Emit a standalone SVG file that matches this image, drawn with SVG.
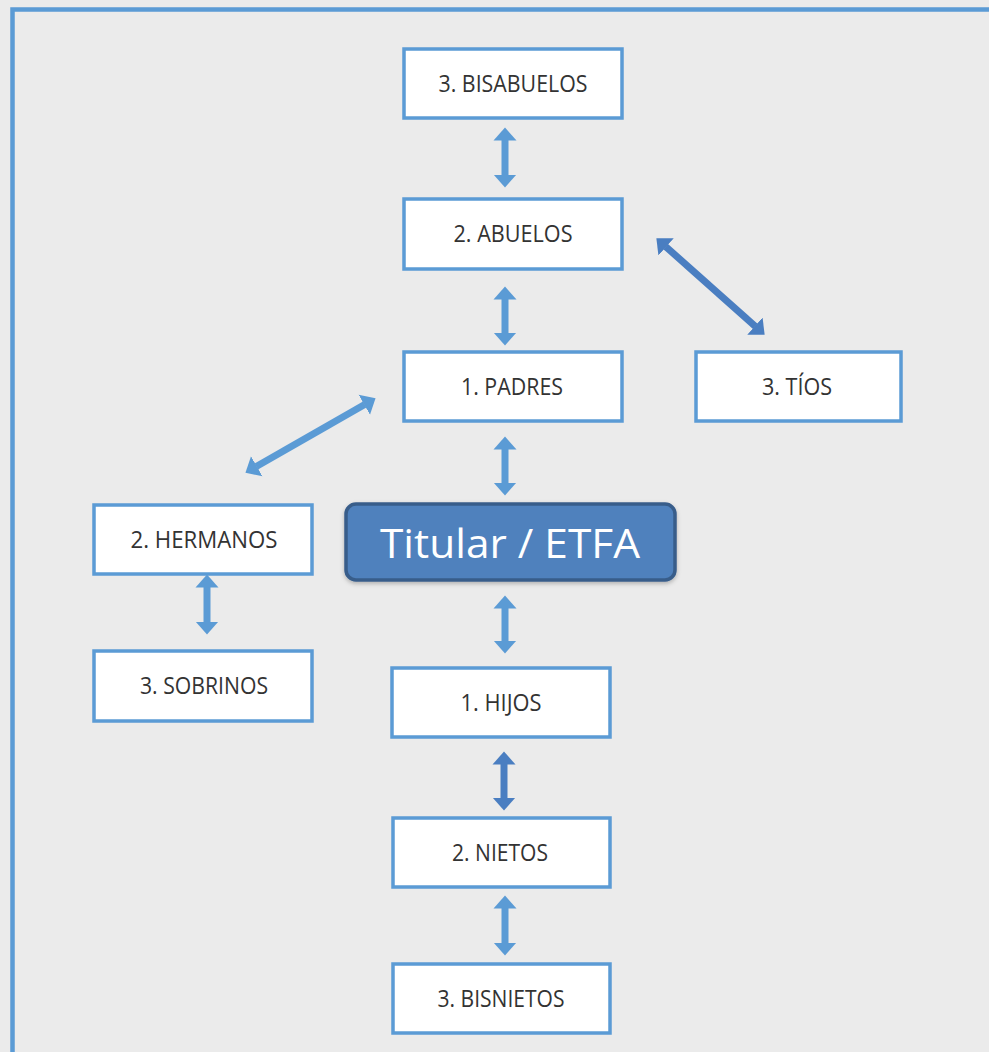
<svg xmlns="http://www.w3.org/2000/svg" width="989" height="1052" viewBox="0 0 989 1052">
<defs>
<style>
.box{fill:#ffffff;stroke:#5B9BD5;stroke-width:3.5}
.lbl{font-family:"Open Sans","Liberation Sans",sans-serif;font-size:23px;fill:#333333;text-anchor:middle}
.main{fill:#4F81BD;stroke:#385D8A;stroke-width:3.5}
.mainlbl{font-family:"Open Sans","Liberation Sans",sans-serif;font-size:41px;fill:#ffffff;text-anchor:middle}
.a1{stroke:#5B9BD5;stroke-width:7;fill:none;marker-start:url(#h1);marker-end:url(#h1)}
.a2{stroke:#4A7EC1;stroke-width:7;fill:none;marker-start:url(#h2);marker-end:url(#h2)}
</style>
<marker id="h1" markerUnits="userSpaceOnUse" markerWidth="14" markerHeight="24" refX="0.5" refY="11.5" orient="auto-start-reverse" viewBox="0 0 14 23"><path d="M0,0 L13,11.5 L0,23 Z" fill="#5B9BD5"/></marker>
<marker id="h2" markerUnits="userSpaceOnUse" markerWidth="14" markerHeight="24" refX="0.5" refY="11.5" orient="auto-start-reverse" viewBox="0 0 14 23"><path d="M0,0 L13,11.5 L0,23 Z" fill="#4A7EC1"/></marker>
<filter id="sh" x="-10%" y="-20%" width="120%" height="150%"><feDropShadow dx="0" dy="2" stdDeviation="2" flood-color="#000" flood-opacity="0.25"/></filter>
</defs>
<rect x="0" y="0" width="989" height="1052" fill="#EBEBEB"/>
<rect x="12.5" y="9.5" width="1000" height="1100" fill="none" stroke="#5B9BD5" stroke-width="4.5"/>

<g id="connectors">
<line class="a1" x1="505" y1="140" x2="505" y2="175"/>
<line class="a1" x1="505" y1="299" x2="505" y2="333"/>
<line class="a1" x1="505" y1="449" x2="505" y2="483"/>
<line class="a1" x1="505" y1="608" x2="505" y2="641"/>
<line class="a2" x1="504" y1="764" x2="504" y2="798"/>
<line class="a1" x1="505" y1="908" x2="505" y2="943"/>
<line class="a1" x1="207" y1="587" x2="207" y2="622"/>
<line class="a2" x1="665.7" y1="246.6" x2="755.3" y2="326.4"/>
<line class="a1" x1="364.7" y1="404.5" x2="256.3" y2="466.5"/>
</g>

<g id="bisabuelos"><rect class="box" x="404" y="49" width="218" height="69"/><text class="lbl" x="513" y="92" textLength="149" lengthAdjust="spacingAndGlyphs">3. BISABUELOS</text></g>
<g id="abuelos"><rect class="box" x="404" y="199" width="218" height="70"/><text class="lbl" x="513" y="242" textLength="119" lengthAdjust="spacingAndGlyphs">2. ABUELOS</text></g>
<g id="padres"><rect class="box" x="404" y="352" width="218" height="69"/><text class="lbl" x="512" y="395" textLength="102" lengthAdjust="spacingAndGlyphs">1. PADRES</text></g>
<g id="tios"><rect class="box" x="696" y="352" width="205" height="69"/><text class="lbl" x="797" y="395" textLength="70" lengthAdjust="spacingAndGlyphs">3. TÍOS</text></g>
<g id="hermanos"><rect class="box" x="94" y="505" width="218" height="69"/><text class="lbl" x="204" y="548" textLength="147" lengthAdjust="spacingAndGlyphs">2. HERMANOS</text></g>
<g id="sobrinos"><rect class="box" x="94" y="651" width="218" height="70"/><text class="lbl" x="204" y="694" textLength="128" lengthAdjust="spacingAndGlyphs">3. SOBRINOS</text></g>
<g id="titular"><rect class="main" x="346" y="504" width="329" height="76" rx="10" filter="url(#sh)"/><text class="mainlbl" x="510" y="558" textLength="260" lengthAdjust="spacingAndGlyphs">Titular / ETFA</text></g>
<g id="hijos"><rect class="box" x="392" y="668" width="218" height="69"/><text class="lbl" x="501" y="711" textLength="81" lengthAdjust="spacingAndGlyphs">1. HIJOS</text></g>
<g id="nietos"><rect class="box" x="393" y="818" width="217" height="69"/><text class="lbl" x="500" y="861" textLength="96" lengthAdjust="spacingAndGlyphs">2. NIETOS</text></g>
<g id="bisnietos"><rect class="box" x="393" y="964" width="217" height="69"/><text class="lbl" x="501" y="1007" textLength="127" lengthAdjust="spacingAndGlyphs">3. BISNIETOS</text></g>
</svg>
